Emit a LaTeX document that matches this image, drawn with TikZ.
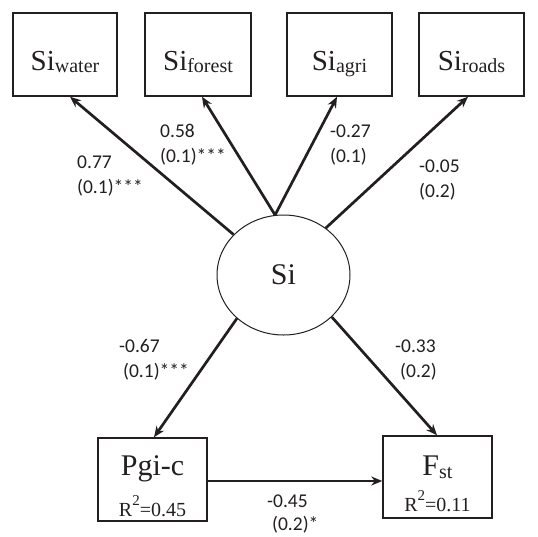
\documentclass[tikz,border=0pt]{standalone}
\usepackage{fontspec}
\setmainfont{Liberation Serif}
\newfontfamily\labfont{Carlito}
\usetikzlibrary{arrows.meta,shapes.geometric}
\definecolor{ink}{HTML}{231F20}
\newcommand\subtxt[2][-2pt]{\raisebox{#1}{\fontsize{20}{20}\selectfont #2}}
\newcommand\sqtxt{\raisebox{10.5pt}{\fontsize{15}{15}\selectfont 2}}
\begin{document}
\begin{tikzpicture}[x=1pt,y=-1pt,
  box/.style={draw=ink,line width=1.5pt,minimum width=104pt,minimum height=83pt,inner sep=0pt},
  boxtext/.style={anchor=base,inner sep=0pt,font=\fontsize{29}{30}\selectfont,text=ink},
  rtext/.style={anchor=base,inner sep=0pt,font=\fontsize{20}{20}\selectfont,text=ink},
  lab/.style={anchor=base west,inner sep=0pt,font=\labfont\fontsize{19.5}{20}\selectfont,text=ink},
  arr/.style={draw=ink,line width=2.7pt,-{Stealth[length=11pt,width=9pt]}}]
\useasboundingbox (0,0) rectangle (538,536);

% top boxes
\node[box] (bw) at (65,54.5) {};
\node[boxtext] (tw) at (65,70) {Si\subtxt{water}};
\node[box,minimum width=106pt] (bf) at (198,54.5) {};
\node[boxtext] (tf) at (198,70) {Si\subtxt{forest}};
\node[box,minimum width=105pt] (ba) at (339.5,54.5) {};
\node[boxtext] (ta) at (339.5,70) {Si\subtxt{agri}};
\node[box,minimum width=105pt] (br) at (471.5,54.5) {};
\node[boxtext] (tr) at (471.5,70) {Si\subtxt{roads}};

% latent
\node[draw=ink,line width=1pt,ellipse,minimum width=133pt,minimum height=120pt,inner sep=0pt,
      font=\fontsize{30}{30}\selectfont,text=ink] (Si) at (283.5,275) {Si};

% bottom boxes
\node[box,minimum width=109pt,minimum height=83pt] (pg) at (152.5,479.5) {};
\node[boxtext,font=\fontsize{30}{30}\selectfont] (tp) at (152.5,475) {Pgi-c};
\node[rtext] (rp) at (152.5,516) {R\sqtxt=0.45};
\node[box,minimum width=109pt,minimum height=82pt] (fs) at (437.5,477) {};
\node[boxtext,font=\fontsize{30}{30}\selectfont] (tfs) at (437.5,475) {F\subtxt[-3pt]{st}};
\node[rtext] (rf) at (437.5,511) {R\sqtxt=0.11};

% arrows
\draw[arr] (Si.141) -- ([xshift=5pt]bw.south);
\draw[arr] (Si.98) -- ([xshift=4pt]bf.south);
\draw[arr] (Si.98) -- ([xshift=-2.5pt]ba.south);
\draw[arr] (Si.48) -- ([xshift=-3.5pt]br.south);
\draw[arr] (Si.223) -- ([xshift=1.5pt]pg.north);
\draw[arr] (Si.319) -- ([xshift=-0.5pt]fs.north);
\draw[arr] ([yshift=-1.5pt]pg.east) -- ([yshift=-1.5pt]pg.east -| fs.west);

% labels
\node[lab] (l1a) at (77,168) {0.77};
\node[lab] (l1b) at (77,193) {(0.1)***};
\node[lab] (l2a) at (160,137) {0.58};
\node[lab] (l2b) at (160,162) {(0.1)***};
\node[lab] (l3a) at (330,137) {-0.27};
\node[lab] (l3b) at (330,162) {(0.1)};
\node[lab] (l4a) at (419,172) {-0.05};
\node[lab] (l4b) at (419,197) {(0.2)};
\node[lab] (l5a) at (119,352) {-0.67};
\node[lab] (l5b) at (123,377) {(0.1)***};
\node[lab] (l6a) at (395,352) {-0.33};
\node[lab] (l6b) at (400,377) {(0.2)};
\node[lab] (l7a) at (267,507) {-0.45};
\node[lab] (l7b) at (272,530) {(0.2)*};
\end{tikzpicture}
\end{document}
